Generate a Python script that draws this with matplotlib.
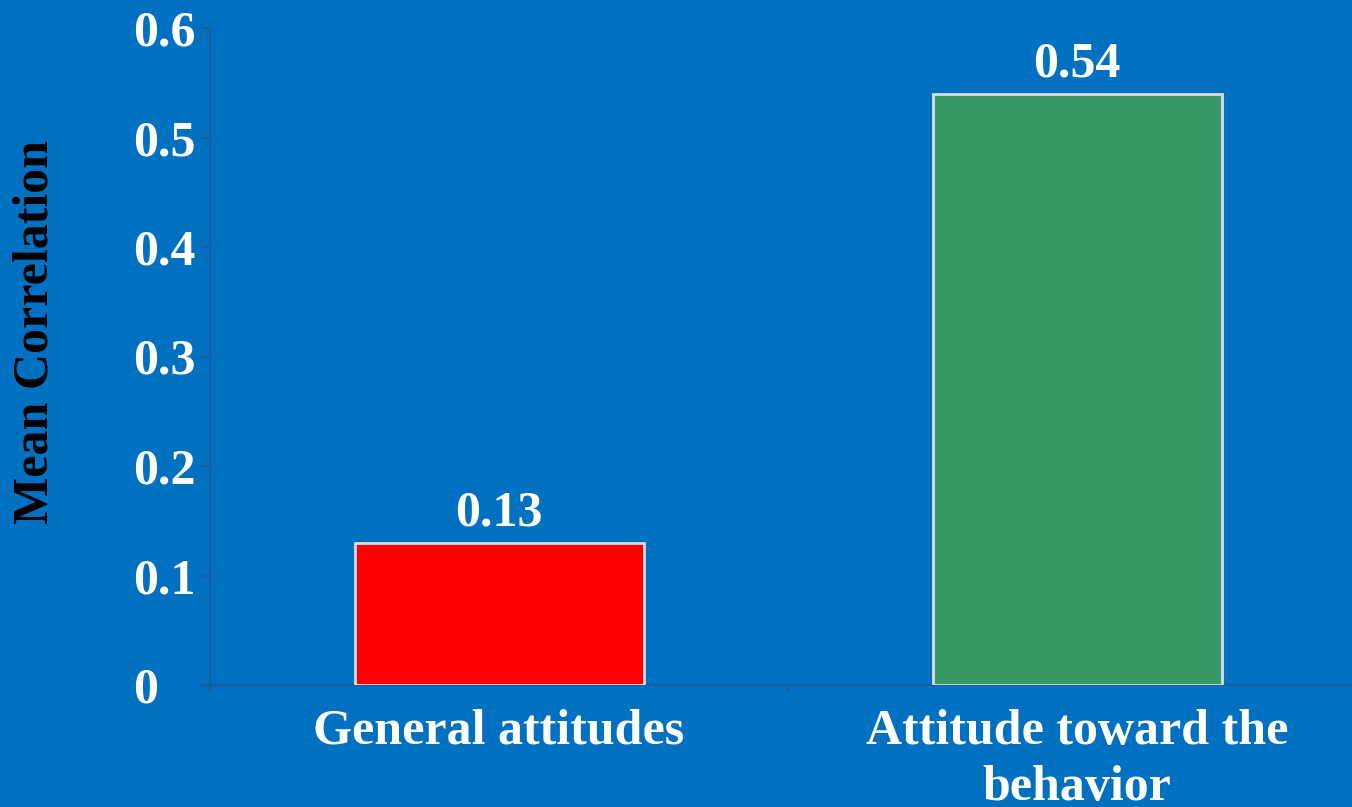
import matplotlib
matplotlib.use("Agg")
import matplotlib.pyplot as plt

categories = ["General attitudes", "Attitude toward the\nbehavior"]
values = [0.13, 0.54]
value_labels = ["0.13", "0.54"]
bar_colors = ["#FF0000", "#359A68"]
yticks = [0, 0.1, 0.2, 0.3, 0.4, 0.5, 0.6]
ytick_labels = ["0", "0.1", "0.2", "0.3", "0.4", "0.5", "0.6"]

bg = "#0070C0"
axis_col = "#1B5C9A"
font = ["Liberation Serif", "DejaVu Serif"]

W, H = 1352, 807
fig = plt.figure(figsize=(W / 100, H / 100), dpi=100, facecolor=bg)
left, right, top, bottom = 210, 1366, 28, 685
ax = fig.add_axes([left / W, 1 - bottom / H, (right - left) / W, (bottom - top) / H])
ax.set_facecolor(bg)

x = range(len(categories))
ax.bar(x, values, width=0.5, color=bar_colors, edgecolor="#D8DEE6", linewidth=2, zorder=3)
for xi, v, lab in zip(x, values, value_labels):
    ax.text(xi, v + 0.006, lab, ha="center", va="bottom", color="white",
            fontsize=36, fontweight="bold", family=font, zorder=4)

ax.set_xlim(-0.5, 1.5)
ax.set_ylim(0, 0.6)
ax.set_yticks(yticks)
ax.set_yticklabels(ytick_labels)
ax.set_xticks(list(x))
ax.set_xticklabels(categories)
ax.set_xticks([-0.5, 0.5, 1.5], minor=True)

for lab in ax.get_yticklabels() + ax.get_xticklabels():
    lab.set_family(font)
    lab.set_fontweight("bold")
    lab.set_color("white")
    lab.set_fontsize(36)
for lab in ax.get_yticklabels():
    lab.set_horizontalalignment("left")
for lab in ax.get_xticklabels():
    lab.set_linespacing(1.3)

# left-aligned y labels: pad puts their left edge near x=133 px
ax.tick_params(axis="y", length=6, width=1.5, color=axis_col, pad=49.5)
ax.tick_params(axis="x", which="major", length=0, pad=17)
ax.tick_params(axis="x", which="minor", length=6, width=1.5, color=axis_col)

for s in ["top", "right"]:
    ax.spines[s].set_visible(False)
for s in ["left", "bottom"]:
    ax.spines[s].set_color(axis_col)
    ax.spines[s].set_linewidth(1.5)

fig.text(36 / W, 1 - 332 / H, "Mean Correlation", rotation=90, ha="center", va="center",
         color="black", fontsize=36, fontweight="bold", family=font)

fig.savefig("out.png", dpi=100, facecolor=bg)
